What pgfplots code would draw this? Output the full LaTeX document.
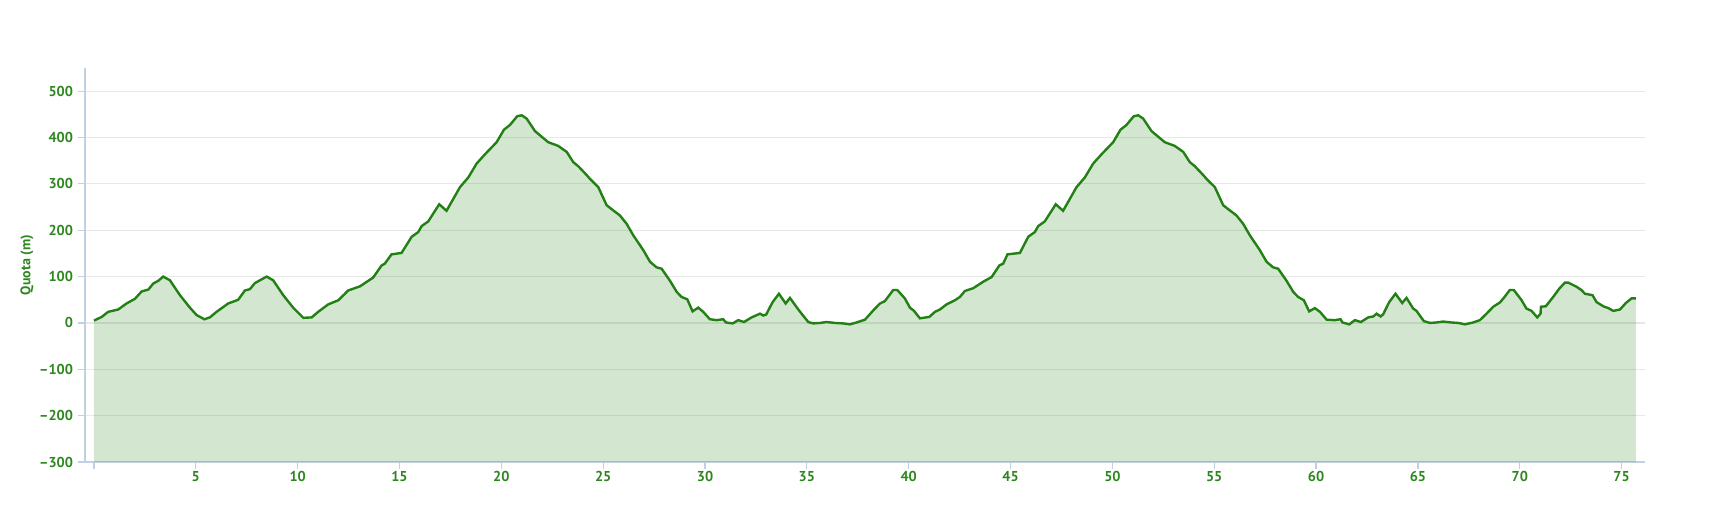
\documentclass[border=0pt]{standalone}
\usepackage{fontspec}
\setmainfont{PT Sans}
\usepackage{pgfplots}
\usepackage{pgfplotstable}
\pgfplotsset{compat=1.18}
\definecolor{lineg}{RGB}{34,128,20}
\definecolor{labg}{RGB}{46,135,30}
\definecolor{axc}{RGB}{192,208,224}
\definecolor{gridc}{RGB}{232,232,232}

\pgfplotstableread{
x y
0.00 5
0.38 13
0.70 24
1.19 29
1.60 42
2.01 52
2.34 68
2.67 72
2.91 85
3.16 91
3.40 100
3.73 92
4.22 60
4.71 33
5.04 17
5.42 8
5.69 12
6.02 24
6.59 42
7.08 50
7.41 70
7.66 73
7.90 86
8.23 94
8.48 100
8.80 92
9.29 60
9.78 33
10.28 11
10.69 12
11.01 24
11.50 40
12.00 49
12.30 62
12.48 70
13.06 79
13.71 98
14.12 124
14.28 128
14.61 148
15.10 151
15.60 186
15.92 196
16.09 209
16.41 219
16.95 256
17.31 242
17.97 293
18.38 314
18.79 344
19.20 364
19.77 390
20.13 417
20.42 427
20.78 446
21.00 448
21.24 441
21.65 414
22.30 390
22.79 382
23.21 369
23.53 347
23.78 338
24.19 319
24.35 311
24.76 293
25.17 254
25.49 243
25.82 232
26.15 214
26.48 189
26.97 157
27.30 132
27.62 120
27.87 117
28.28 91
28.61 67
28.85 56
29.13 51
29.39 25
29.67 33
29.91 24
30.24 8
30.57 6
30.89 8
31.03 1
31.36 -1
31.63 6
31.91 2
32.29 12
32.70 20
32.86 16
33.00 18
33.32 45
33.63 63
33.96 42
34.17 54
34.58 29
34.74 20
35.07 2
35.31 -1
35.64 0
35.97 2
36.38 0
36.78 -1
37.11 -3
37.44 1
37.85 7
38.26 27
38.59 42
38.83 47
39.24 71
39.44 71
39.81 53
40.06 33
40.26 26
40.55 10
41.01 13
41.29 24
41.53 29
41.86 40
42.27 49
42.51 56
42.76 69
43.17 75
43.66 89
44.07 99
44.45 124
44.64 128
44.85 148
45.46 151
45.87 186
46.19 196
46.36 209
46.68 219
47.22 256
47.58 242
48.24 293
48.65 314
49.06 344
49.47 364
50.04 390
50.40 417
50.69 427
51.05 446
51.27 448
51.51 441
51.92 414
52.57 390
53.06 382
53.48 369
53.80 347
54.05 338
54.46 319
54.62 311
55.03 293
55.44 254
55.76 243
56.09 232
56.42 214
56.75 189
57.24 157
57.57 132
57.89 120
58.14 117
58.55 91
58.88 67
59.12 56
59.40 49
59.66 25
59.94 32
60.19 24
60.52 7
60.92 6
61.20 8
61.30 1
61.63 -3
61.91 6
62.20 2
62.56 12
62.81 14
62.97 20
63.17 14
63.30 19
63.59 45
63.90 63
64.23 43
64.44 54
64.77 31
64.93 26
65.29 4
65.59 0
65.90 1
66.24 3
66.65 1
66.98 0
67.31 -3
67.71 1
68.04 6
68.37 20
68.70 35
69.02 44
69.20 53
69.51 71
69.71 71
70.09 49
70.33 31
70.58 26
70.86 12
71.02 20
71.04 35
71.28 36
71.64 56
71.94 74
72.22 87
72.38 87
72.79 78
73.03 71
73.20 63
73.57 60
73.77 45
74.10 36
74.35 32
74.59 26
74.92 29
75.21 43
75.49 53
75.70 53
}\prof

\begin{document}
\begin{tikzpicture}
\path[use as bounding box] (-42.5bp,-34.5bp) rectangle (812bp,231bp);
\begin{axis}[
  at={(0,0)}, anchor=south west,
  scale only axis, width=780bp, height=197bp,
  xmin=-0.44, xmax=76.15, ymin=-300, ymax=550,
  axis x line*=bottom, axis y line*=left,
  axis line style={-, draw=axc, line width=0.6bp},
  xtick={0,5,...,75},
  xticklabels={,5,10,15,20,25,30,35,40,45,50,55,60,65,70,75},
  ytick={-300,-200,...,500},
  yticklabels={\textendash300,\textendash200,\textendash100,0,100,200,300,400,500},
  tick align=outside,
  major tick length=3.5bp,
  tick style={draw=axc, line width=0.6bp},
  ymajorgrids,
  grid style={draw=gridc, line width=0.6bp},
  ticklabel style={font=\bfseries\fontsize{7.2}{8}\selectfont, text=labg},
  xticklabel style={yshift=2.5bp},
  yticklabel style={xshift=1bp},
  ylabel={Quota (m)},
  ylabel style={font=\bfseries\fontsize{7.0}{8}\selectfont, text=labg,
    at={([xshift=-29bp]axis description cs:0,0.5)}, anchor=center},
]
\addplot[fill=lineg, fill opacity=0.2, draw=none] table[x=x,y=y] {\prof}
  -- (axis cs:75.70,-300) -- (axis cs:0,-300) -- cycle;
\addplot[draw=lineg, line width=1.2bp] table[x=x,y=y] {\prof};
\end{axis}
\end{tikzpicture}
\end{document}
